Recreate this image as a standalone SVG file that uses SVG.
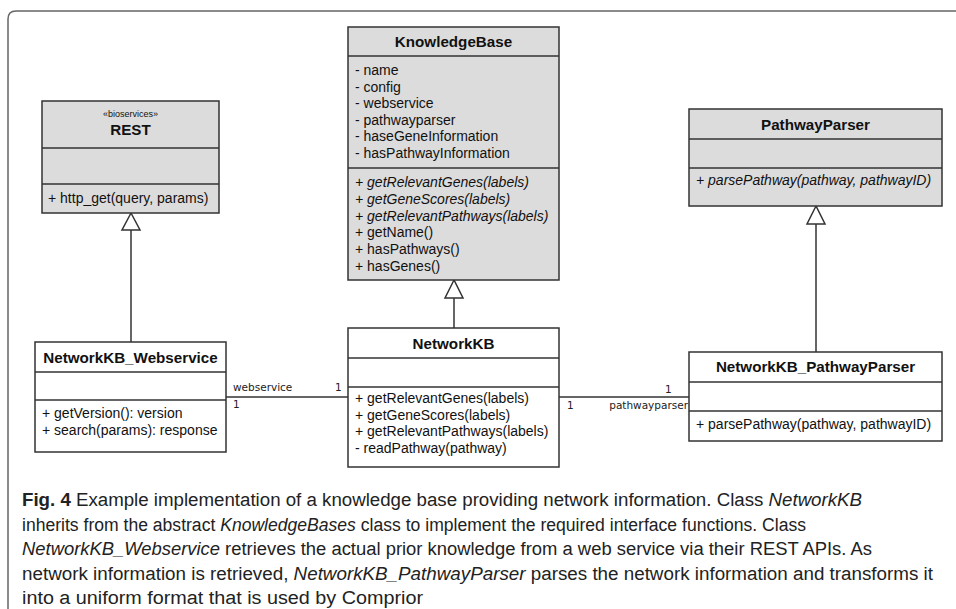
<svg xmlns="http://www.w3.org/2000/svg" width="956" height="609" viewBox="0 0 956 609">
  <style>
    .abstract { fill: #dcdcdc; stroke: #333; stroke-width: 1.5; }
    .concrete { fill: #ffffff; stroke: #333; stroke-width: 1.5; }
    .div { stroke: #333; stroke-width: 1.5; }
    .title { font-family: "Liberation Sans", Arial, sans-serif; font-weight: bold; font-size: 15.2px; fill: #111; text-anchor: middle; }
    .stereo { font-family: "Liberation Sans", Arial, sans-serif; font-size: 9px; fill: #111; text-anchor: middle; }
    .member { font-family: "Liberation Sans", Arial, sans-serif; font-size: 14px; fill: #111; }
    .ital { font-style: italic; }
    .edge { stroke: #333; stroke-width: 1.5; fill: none; }
    .tri { fill: #ffffff; stroke: #333; stroke-width: 1.5; stroke-linejoin: miter; }
    .lbl { font-family: "DejaVu Sans", sans-serif; font-size: 10.5px; fill: #222; }
    .cap { font-family: "Liberation Sans", Arial, sans-serif; font-size: 18px; fill: #222; }
    .capb { font-weight: bold; }
    .frame { fill: none; stroke: #666; stroke-width: 1.5; }
  </style>

  <!-- figure frame with rounded top-left corner, open on the right -->
  <path class="frame" d="M 8 609 V 19 Q 8 11 16 11 H 956"/>

  <!-- connectors: generalisations and associations -->
  <g id="connectors">
    <line class="edge" x1="131" y1="230" x2="131" y2="342"/>
    <polygon class="tri" points="131,213 122,230 140,230"/>
    <line class="edge" x1="454" y1="298" x2="454" y2="328"/>
    <polygon class="tri" points="454,280 445,298 463,298"/>
    <line class="edge" x1="816" y1="224" x2="816" y2="352"/>
    <polygon class="tri" points="816,206 807,224 825,224"/>

    <line class="edge" x1="226" y1="397" x2="348" y2="397"/>
    <text class="lbl" x="233" y="391">webservice</text>
    <text class="lbl" x="233" y="408">1</text>
    <text class="lbl" x="335" y="391">1</text>

    <line class="edge" x1="559" y1="397" x2="689" y2="397"/>
    <text class="lbl" x="567" y="409">1</text>
    <text class="lbl" x="688" y="409" text-anchor="end">pathwayparser</text>
    <text class="lbl" x="665" y="393">1</text>
  </g>

  <!-- REST -->
  <g id="rest">
    <rect class="abstract" x="42" y="101" width="177" height="112"/>
    <line class="div" x1="42" y1="148" x2="219" y2="148"/>
    <line class="div" x1="42" y1="184" x2="219" y2="184"/>
    <text class="stereo" x="130.5" y="117">«bioservices»</text>
    <text class="title" x="130.5" y="135">REST</text>
    <text class="member" x="48" y="203">+ http_get(query, params)</text>
  </g>

  <!-- KnowledgeBase -->
  <g id="knowledgebase">
    <rect class="abstract" x="348" y="27" width="211" height="253"/>
    <line class="div" x1="348" y1="56" x2="559" y2="56"/>
    <line class="div" x1="348" y1="168" x2="559" y2="168"/>
    <text class="title" x="453.5" y="47">KnowledgeBase</text>
    <text class="member" x="355" y="75">- name</text>
    <text class="member" x="355" y="91.6">- config</text>
    <text class="member" x="355" y="108.2">- webservice</text>
    <text class="member" x="355" y="124.8">- pathwayparser</text>
    <text class="member" x="355" y="141.4">- haseGeneInformation</text>
    <text class="member" x="355" y="158">- hasPathwayInformation</text>
    <text class="member ital" x="355" y="187">+ getRelevantGenes(labels)</text>
    <text class="member ital" x="355" y="203.8">+ getGeneScores(labels)</text>
    <text class="member ital" x="355" y="220.6">+ getRelevantPathways(labels)</text>
    <text class="member" x="355" y="237.4">+ getName()</text>
    <text class="member" x="355" y="254.2">+ hasPathways()</text>
    <text class="member" x="355" y="271">+ hasGenes()</text>
  </g>

  <!-- PathwayParser -->
  <g id="pathwayparser">
    <rect class="abstract" x="689" y="109" width="253" height="97"/>
    <line class="div" x1="689" y1="139" x2="942" y2="139"/>
    <line class="div" x1="689" y1="168" x2="942" y2="168"/>
    <text class="title" x="815.5" y="130">PathwayParser</text>
    <text class="member ital" x="696" y="185">+ parsePathway(pathway, pathwayID)</text>
  </g>

  <!-- NetworkKB_Webservice -->
  <g id="networkkb-webservice">
    <rect class="concrete" x="35" y="342" width="191" height="110"/>
    <line class="div" x1="35" y1="372" x2="226" y2="372"/>
    <line class="div" x1="35" y1="400" x2="226" y2="400"/>
    <text class="title" x="130.5" y="363">NetworkKB_Webservice</text>
    <text class="member" x="42" y="418">+ getVersion(): version</text>
    <text class="member" x="42" y="435">+ search(params): response</text>
  </g>

  <!-- NetworkKB -->
  <g id="networkkb">
    <rect class="concrete" x="348" y="328" width="211" height="139"/>
    <line class="div" x1="348" y1="358" x2="559" y2="358"/>
    <line class="div" x1="348" y1="387" x2="559" y2="387"/>
    <text class="title" x="453.5" y="349">NetworkKB</text>
    <text class="member" x="355" y="403">+ getRelevantGenes(labels)</text>
    <text class="member" x="355" y="419.5">+ getGeneScores(labels)</text>
    <text class="member" x="355" y="436">+ getRelevantPathways(labels)</text>
    <text class="member" x="355" y="452.5">- readPathway(pathway)</text>
  </g>

  <!-- NetworkKB_PathwayParser -->
  <g id="networkkb-pathwayparser">
    <rect class="concrete" x="689" y="352" width="253" height="89"/>
    <line class="div" x1="689" y1="382" x2="942" y2="382"/>
    <line class="div" x1="689" y1="411" x2="942" y2="411"/>
    <text class="title" x="815.5" y="372">NetworkKB_PathwayParser</text>
    <text class="member" x="696" y="429">+ parsePathway(pathway, pathwayID)</text>
  </g>

  <!-- caption, set condensed to its column width -->
  <g id="caption">
    <text class="cap" x="22" y="506" textLength="840" lengthAdjust="spacingAndGlyphs"><tspan class="capb">Fig. 4</tspan>  Example implementation of a knowledge base providing network information. Class <tspan font-style="italic">NetworkKB</tspan></text>
    <text class="cap" x="22" y="530.5" textLength="784" lengthAdjust="spacingAndGlyphs">inherits from the abstract <tspan font-style="italic">KnowledgeBases</tspan> class to implement the required interface functions. Class</text>
    <text class="cap" x="22" y="555" textLength="850" lengthAdjust="spacingAndGlyphs"><tspan font-style="italic">NetworkKB_Webservice</tspan> retrieves the actual prior knowledge from a web service via their REST APIs. As</text>
    <text class="cap" x="22" y="579.5" textLength="911" lengthAdjust="spacingAndGlyphs">network information is retrieved, <tspan font-style="italic">NetworkKB_PathwayParser</tspan> parses the network information and transforms it</text>
    <text class="cap" x="22" y="604" textLength="401" lengthAdjust="spacingAndGlyphs">into a uniform format that is used by Comprior</text>
  </g>
</svg>
